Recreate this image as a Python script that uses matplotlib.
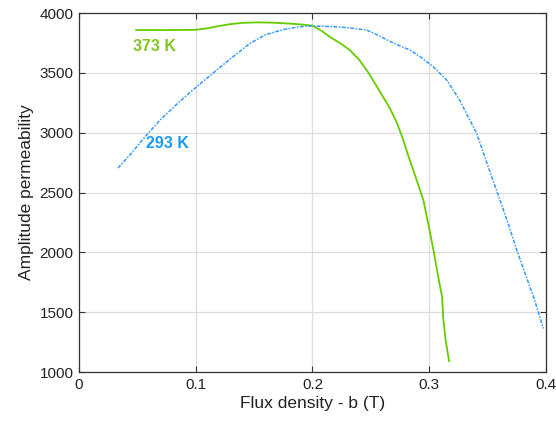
import numpy as np
import matplotlib
matplotlib.use("Agg")
import matplotlib.pyplot as plt

plt.rcParams["font.family"] = ["Liberation Sans", "DejaVu Sans"]

# 373 K curve (solid green)
b_373 = [0.049, 0.075, 0.100, 0.110, 0.120, 0.130, 0.140, 0.152, 0.165, 0.180,
         0.190, 0.200, 0.208, 0.215, 0.225, 0.232, 0.240, 0.248, 0.258, 0.266,
         0.272, 0.277, 0.282, 0.288, 0.295, 0.300, 0.304, 0.308, 0.311, 0.312,
         0.314, 0.317]
mu_373 = [3858, 3858, 3860, 3872, 3892, 3908, 3918, 3922, 3920, 3912,
          3905, 3895, 3850, 3800, 3740, 3690, 3610, 3500, 3340, 3210,
          3090, 2960, 2810, 2640, 2437, 2200, 2000, 1780, 1629, 1450,
          1270, 1092]

# 293 K curve (blue dash-dot)
b_293 = [0.0334, 0.045, 0.057, 0.0694, 0.085, 0.1008, 0.115, 0.130, 0.1465, 0.160,
         0.175, 0.189, 0.200, 0.215, 0.230, 0.2464, 0.255, 0.265, 0.275, 0.2835,
         0.293, 0.3035, 0.315, 0.326, 0.3406, 0.350, 0.3606, 0.368, 0.375, 0.383,
         0.390, 0.3977]
mu_293 = [2705, 2830, 2970, 3106, 3250, 3384, 3500, 3620, 3747, 3820,
          3862, 3886, 3892, 3888, 3878, 3858, 3820, 3770, 3725, 3691,
          3630, 3551, 3440, 3273, 2995, 2730, 2437, 2230, 2020, 1800,
          1610, 1365]

green = "#66cc00"
blue = "#3399ff"

fig = plt.figure(figsize=(5.56, 4.21), dpi=100)
ax = fig.add_axes([0.142, 0.116, 0.840, 0.853])

ax.plot(b_373, mu_373, color=green, lw=1.3, ls="-")
ax.plot(b_293, mu_293, color=blue, lw=1.1, ls=(0, (2.5, 1, 1, 1)))

ax.text(0.046, 3724, "373 K", color="#80c820", fontsize=11.5, fontweight="bold",
        va="center", ha="left")
ax.text(0.057, 2914, "293 K", color="#1a9af0", fontsize=11.5, fontweight="bold",
        va="center", ha="left")

ax.set_xlim(0, 0.4)
ax.set_ylim(1000, 4000)
ax.set_xticks([0, 0.1, 0.2, 0.3, 0.4])
ax.set_xticklabels(["0", "0.1", "0.2", "0.3", "0.4"])
ax.set_yticks([1000, 1500, 2000, 2500, 3000, 3500, 4000])
ax.grid(True, color="#dddddd", lw=0.9)
ax.set_axisbelow(True)
ax.tick_params(direction="in", top=True, right=True, length=4, color="#333333",
               labelsize=11, labelcolor="#222222", pad=4)
for s in ax.spines.values():
    s.set_color("#333333")
    s.set_linewidth(0.9)

ax.set_xlabel("Flux density - b (T)", fontsize=12.5, color="#222222", labelpad=3)
ax.set_ylabel("Amplitude permeability", fontsize=12.5, color="#222222", labelpad=4)

fig.savefig("out.png", dpi=100)
